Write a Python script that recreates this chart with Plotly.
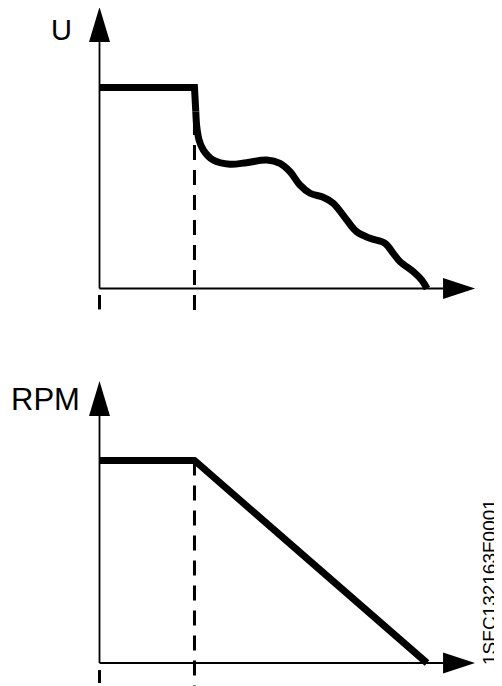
# Curvas U y RPM frente al tiempo (arranque / frenado), dos paneles apilados

import plotly.graph_objects as go

# Datos (t en % del tiempo total, U y RPM en % del valor nominal)
T_U = [0, 29.0, 29.4, 29.7, 30.4, 31.7, 34.7, 39.8, 44.9, 51.1, 55.1, 58.2, 61.2,
       64.3, 68.3, 71.4, 75.5, 78.5, 82.6, 87.2, 89.7, 91.8, 95.8, 98.4, 100.0]
U_VALS = [100, 100, 88, 80.5, 73.9, 68.9, 63.9, 61.8, 62.6, 63.9, 62.3, 58.1, 51.5,
          47.4, 45.4, 42.4, 34.1, 28.3, 25.0, 22.5, 17.5, 13.3, 8.4, 4.2, 0]

T_RPM = [0, 29.0, 100.0]
RPM_VALS = [100, 100, 0]

# Instantes marcados con línea discontinua
T_MARKS = [0, 29.0]

LABEL_TOP = "U"
LABEL_BOTTOM = "RPM"
DOC_CODE = "1SFC132163F0001"

NEGRO = "#000000"
FONT = "Liberation Sans, Arial, sans-serif"

# Extremos de los ejes dibujados (donde empiezan las flechas)
T_AXIS_END = 104.9
U_AXIS_END = 122.6
RPM_AXIS_END = 122.0

fig = go.Figure()

# Panel superior: U
n_flat = 3  # tramo recto hasta el inicio de la caída
fig.add_trace(go.Scatter(
    x=T_U[:n_flat], y=U_VALS[:n_flat], mode="lines",
    line=dict(color=NEGRO, width=7),
    xaxis="x", yaxis="y", hoverinfo="skip"
))
fig.add_trace(go.Scatter(
    x=T_U[n_flat - 1:], y=U_VALS[n_flat - 1:], mode="lines",
    line=dict(color=NEGRO, width=7, shape="spline", smoothing=1.0),
    xaxis="x", yaxis="y", hoverinfo="skip"
))

# Panel inferior: RPM
fig.add_trace(go.Scatter(
    x=T_RPM, y=RPM_VALS, mode="lines",
    line=dict(color=NEGRO, width=7),
    xaxis="x2", yaxis="y2", hoverinfo="skip"
))

# Líneas discontinuas en t1 y marcas cortas en t=0 (bajo el eje)
for xa, ya, top, bottom, tick in [("x", "y", 83.8, -11.7, (-3.2, -10.4)),
                                  ("x2", "y2", 100, -12.0, (-3.5, -9.9))]:
    fig.add_trace(go.Scatter(
        x=[T_MARKS[1], T_MARKS[1]], y=[top, bottom], mode="lines",
        line=dict(color=NEGRO, width=3, dash="15px,10px"),
        xaxis=xa, yaxis=ya, hoverinfo="skip"
    ))
    fig.add_trace(go.Scatter(
        x=[T_MARKS[0], T_MARKS[0]], y=list(tick), mode="lines",
        line=dict(color=NEGRO, width=3),
        xaxis=xa, yaxis=ya, hoverinfo="skip"
    ))

# Ejes con flecha
shapes = []
for xr, yr, y_end in [("x", "y", U_AXIS_END), ("x2", "y2", RPM_AXIS_END)]:
    shapes.append(dict(type="line", xref=xr, yref=yr, x0=0, y0=0, x1=0, y1=y_end,
                       line=dict(color=NEGRO, width=1.8)))
    shapes.append(dict(type="line", xref=xr, yref=yr, x0=0, y0=0, x1=T_AXIS_END, y1=0,
                       line=dict(color=NEGRO, width=1.8)))
    shapes.append(dict(type="path", xref=xr, yref=yr, xsizemode="pixel", ysizemode="pixel",
                       xanchor=0, yanchor=y_end, path="M-10.5,0 L10.5,0 L0,35 Z",
                       fillcolor=NEGRO, line=dict(width=0)))
    shapes.append(dict(type="path", xref=xr, yref=yr, xsizemode="pixel", ysizemode="pixel",
                       xanchor=T_AXIS_END, yanchor=0, path="M0,-10.5 L0,10.5 L32,0 Z",
                       fillcolor=NEGRO, line=dict(width=0)))

annotations = [
    dict(text=LABEL_TOP, x=0.1093, y=0.9676, xref="paper", yref="paper",
         xanchor="center", yanchor="middle", showarrow=False,
         font=dict(family=FONT, size=29, color=NEGRO)),
    dict(text=LABEL_BOTTOM, x=0.0769, y=0.4233, xref="paper", yref="paper",
         xanchor="center", yanchor="middle", showarrow=False,
         font=dict(family=FONT, size=31, color=NEGRO)),
    dict(text=DOC_CODE, x=1.0, y=0.1527, xref="paper", yref="paper",
         xanchor="right", yanchor="middle", showarrow=False, textangle=-90,
         font=dict(family=FONT, size=19, color=NEGRO)),
]

hidden = dict(visible=False, showgrid=False, zeroline=False, fixedrange=True)

# La página añade 8 px de margen, así que la figura es 8 px menor por cada lado
fig.update_layout(
    width=494,
    height=678,
    margin=dict(l=0, r=0, t=0, b=0),
    showlegend=False,
    plot_bgcolor="white",
    paper_bgcolor="white",
    xaxis=dict(hidden, domain=[0, 1], range=[-27.94, 122.9], anchor="y"),
    yaxis=dict(hidden, domain=[0.5059, 1], range=[-27.1, 139.55], anchor="x"),
    xaxis2=dict(hidden, domain=[0, 1], range=[-27.94, 122.9], anchor="y2"),
    yaxis2=dict(hidden, domain=[0, 0.5059], range=[-11.36, 158.0], anchor="x2"),
    shapes=shapes,
    annotations=annotations,
)

fig.write_html("out.html")
